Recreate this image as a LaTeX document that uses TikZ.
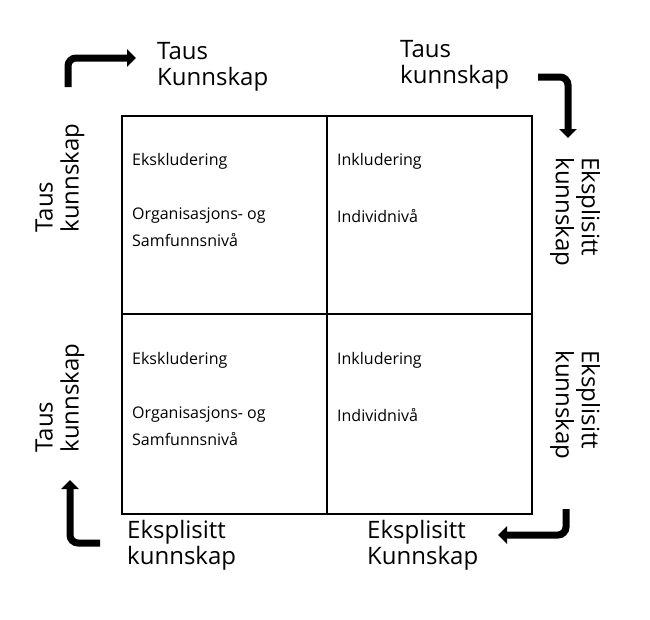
\documentclass[tikz,border=0pt]{standalone}
\usepackage{fontspec}
\setmainfont{Open Sans}
\usetikzlibrary{arrows.meta}
\begin{document}
\begin{tikzpicture}[x=1pt,y=-1pt,
  big/.style={font=\fontsize{24}{26}\selectfont,align=left,inner sep=0pt},
  cell/.style={font=\fontsize{16}{20}\selectfont,anchor=west,inner sep=0pt},
  bentarrow/.style={line width=7pt,rounded corners=8pt,-{Triangle[width=17pt,length=9pt]}}]
\useasboundingbox (0,0) rectangle (650,619);
\draw[line width=1.8pt] (122,116) rectangle (532,514);
\draw[line width=1.8pt] (327,116) -- (327,514) (122,314) -- (532,314);
\foreach \y/\n in {0/a,199/b}{
 \node[cell] (e\n) at (132,161+\y) {Ekskludering};
 \node[cell] (o\n) at (132,216+\y) {Organisasjons- og};
 \node[cell] (s\n) at (132,240+\y) {Samfunnsnivå};
 \node[cell] (i\n) at (337,161+\y) {Inkludering};
 \node[cell] (n\n) at (337,216+\y) {Individnivå};
}
\node[big,anchor=west] (tl) at (157,67) {Taus\\Kunnskap};
\node[big,anchor=west] (tr) at (400,65) {Taus\\kunnskap};
\node[big,rotate=90] (l1) at (60,178) {Taus\\kunnskap};
\node[big,rotate=90] (l2) at (60,398) {Taus\\kunnskap};
\node[big,rotate=-90] (r1) at (575,212) {Eksplisitt\\kunnskap};
\node[big,rotate=-90] (r2) at (575,405) {Eksplisitt\\kunnskap};
\node[big,anchor=west] (b1) at (127,545) {Eksplisitt\\kunnskap};
\node[big,anchor=west] (b2) at (367,545) {Eksplisitt\\Kunnskap};
\coordinate (a1) at (68,87); \coordinate (a1e) at (136,58);
\draw[bentarrow] (a1) |- (a1e);
\coordinate (a2) at (538,77); \coordinate (a2e) at (568,138);
\draw[bentarrow] (a2) -| (a2e);
\coordinate (a3) at (100,543); \coordinate (a3e) at (70,480);
\draw[bentarrow] (a3) -| (a3e);
\coordinate (a4) at (566,509); \coordinate (a4e) at (498,535);
\draw[bentarrow] (a4) |- (a4e);
\end{tikzpicture}
\end{document}
